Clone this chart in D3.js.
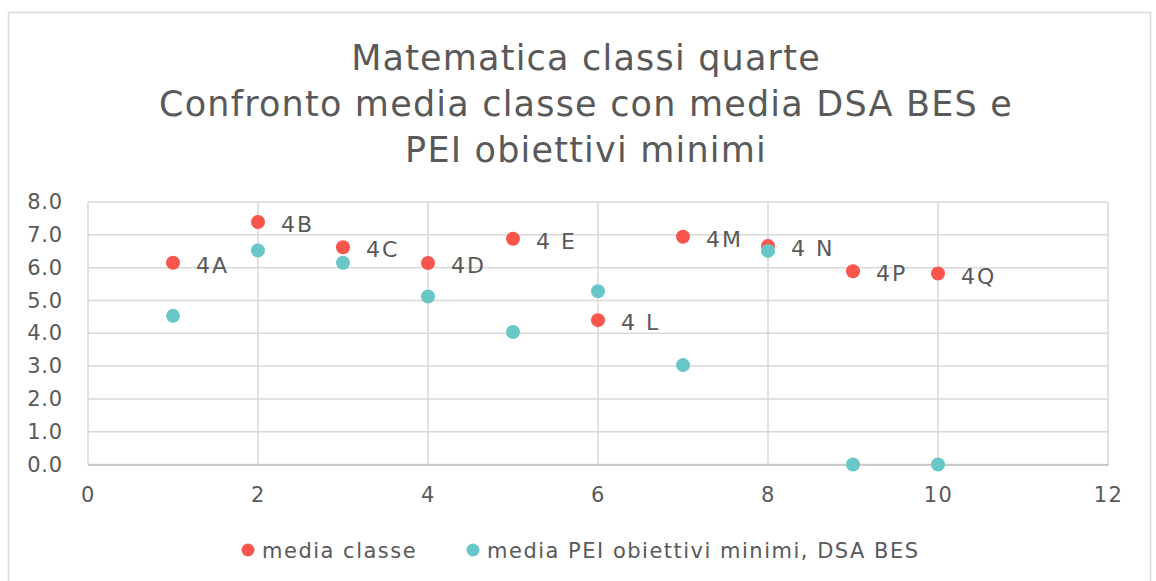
<!DOCTYPE html>
<html>
<head>
<meta charset="utf-8">
<script src="https://cdn.jsdelivr.net/npm/d3@7"></script>
<style>
  body { margin: 0; background: #fff; }
  svg text { font-family: "DejaVu Sans", Verdana, sans-serif; fill: #595959; }
</style>
</head>
<body>
<div id="graph"></div>
<script>
// class labels and x positions
let classLabels = ["4A", "4B", "4C", "4D", "4 E", "4 L", "4M", "4 N", "4P", "4Q"];
let classX = [1, 2, 3, 4, 5, 6, 7, 8, 9, 10];
// media classe
let mediaClasse = [6.15, 7.39, 6.62, 6.14, 6.88, 4.4, 6.94, 6.66, 5.89, 5.82];
// media PEI obiettivi minimi, DSA BES
let mediaPei = [4.53, 6.52, 6.15, 5.12, 4.04, 5.28, 3.03, 6.51, 0, 0];
let xTicks = [0, 2, 4, 6, 8, 10, 12];
let yTicks = [0, 1, 2, 3, 4, 5, 6, 7, 8];
let titleLines = [
  "Matematica classi quarte",
  "Confronto media classe con media DSA BES e",
  "PEI obiettivi minimi",
];
let seriesNames = ["media classe", "media PEI obiettivi minimi, DSA BES"];
let seriesColors = ["#f8554d", "#69c7c8"];

let W = 1156, H = 581;
let plot = { left: 88, right: 1108, top: 202, bottom: 464.5 };

let svg = d3.select("#graph").append("svg").attr("width", W).attr("height", H);

// chart frame
svg.append("rect")
  .attr("x", 8.5).attr("y", 12.5)
  .attr("width", 1142).attr("height", 600)
  .attr("fill", "none").attr("stroke", "#d9d9d9").attr("stroke-width", 1.5);

let x = d3.scaleLinear().domain([0, 12]).range([plot.left, plot.right]);
let y = d3.scaleLinear().domain([0, 8]).range([plot.bottom, plot.top]);

// title
svg.append("g").selectAll("text")
  .data(titleLines).enter().append("text")
  .attr("x", 586).attr("y", (d, i) => 70 + i * 46)
  .attr("text-anchor", "middle")
  .style("font-size", "35px")
  .style("letter-spacing", "1.2px")
  .text(d => d);

// gridlines
svg.append("g").selectAll("line")
  .data(yTicks).enter().append("line")
  .attr("x1", plot.left).attr("x2", plot.right)
  .attr("y1", d => y(d)).attr("y2", d => y(d))
  .attr("stroke", "#d9d9d9").attr("stroke-width", 1.5);
svg.append("g").selectAll("line")
  .data(xTicks).enter().append("line")
  .attr("x1", d => x(d)).attr("x2", d => x(d))
  .attr("y1", plot.top).attr("y2", plot.bottom)
  .attr("stroke", "#d9d9d9").attr("stroke-width", 1.5);

// axes
let yAxis = svg.append("g")
  .attr("transform", "translate(" + plot.left + ",0)")
  .call(d3.axisLeft(y).tickValues(yTicks).tickFormat(d3.format(".1f")).tickSize(0).tickPadding(25));
yAxis.select(".domain").remove();
yAxis.selectAll("text").style("font-size", "21px").style("letter-spacing", "0.8px")
  .attr("font-family", null).attr("fill", null);

let xAxis = svg.append("g")
  .attr("transform", "translate(0," + plot.bottom + ")")
  .call(d3.axisBottom(x).tickValues(xTicks).tickSize(0).tickPadding(23));
xAxis.select(".domain").attr("stroke", "#bfbfbf").attr("stroke-width", 1.5);
xAxis.selectAll("text").style("font-size", "21px").style("letter-spacing", "1.5px")
  .attr("font-family", null).attr("fill", null);

// points
let pts = svg.append("g");
pts.selectAll(".pei")
  .data(classX).enter().append("circle")
  .attr("class", "pei")
  .attr("cx", d => x(d))
  .attr("cy", (d, i) => y(mediaPei[i]))
  .attr("r", 7)
  .attr("fill", seriesColors[1]);
pts.selectAll(".media")
  .data(classX).enter().append("circle")
  .attr("class", "media")
  .attr("cx", d => x(d))
  .attr("cy", (d, i) => y(mediaClasse[i]))
  .attr("r", 7)
  .attr("fill", seriesColors[0]);
// PEI dots drawn over media dots where they overlap, as in original
pts.selectAll(".pei").raise();
pts.selectAll(".pei").filter((d, i) => i !== 7).lower();

// data labels
svg.append("g").selectAll("text")
  .data(classX).enter().append("text")
  .attr("x", d => x(d) + 23)
  .attr("y", (d, i) => y(mediaClasse[i]) + 10)
  .style("font-size", "22px")
  .style("letter-spacing", "2px")
  .text((d, i) => classLabels[i]);

// legend
let legX = [248, 473];
let leg = svg.append("g").selectAll("g")
  .data(seriesNames).enter().append("g");
leg.append("circle")
  .attr("cx", (d, i) => legX[i]).attr("cy", 550).attr("r", 6.5)
  .attr("fill", (d, i) => seriesColors[i]);
leg.append("text")
  .attr("x", (d, i) => legX[i] + 14).attr("y", 558)
  .style("font-size", "21px")
  .style("letter-spacing", "1.5px")
  .text(d => d);
</script>
</body>
</html>
